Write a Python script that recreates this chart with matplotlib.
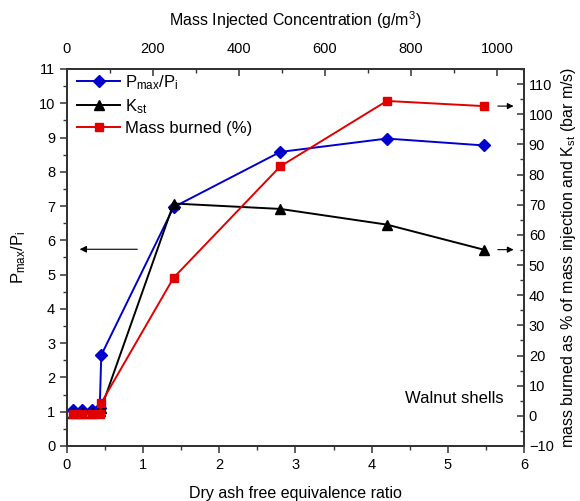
import matplotlib
matplotlib.use("Agg")
import matplotlib.pyplot as plt
from matplotlib.ticker import MultipleLocator

plt.rcParams['font.family'] = ['Liberation Sans', 'DejaVu Sans']
plt.rcParams['mathtext.fontset'] = 'custom'
plt.rcParams['mathtext.rm'] = 'Liberation Sans'
plt.rcParams['mathtext.it'] = 'Liberation Sans'

# data
phi = [0.08, 0.20, 0.33, 0.43, 0.45, 1.40, 2.80, 4.20, 5.47]
pmax_pi = [1.05, 1.05, 1.05, 1.10, 2.65, 6.97, 8.58, 8.97, 8.77]
kst = [1.0, 1.0, 1.0, 1.5, 2.5, 70.4, 68.6, 63.4, 55.1]
mass_burned = [0.5, 0.5, 0.5, 0.5, 4.3, 45.8, 82.7, 104.4, 102.7]

fig = plt.figure(figsize=(5.8, 5.01), dpi=100)
ax = fig.add_axes([0.1155, 0.1098, 0.7879, 0.7525])
ax2 = ax.twinx()
ax3 = ax.twiny()

l1, = ax.plot(phi, pmax_pi, color='#0000cc', marker='D', ms=6, lw=1.4, label=r'P$_{\mathregular{max}}$/P$_{\mathregular{i}}$', zorder=3)
l2, = ax2.plot(phi, kst, color='black', marker='^', ms=7, lw=1.4, label=r'K$_{\mathregular{st}}$')
l3, = ax2.plot(phi, mass_burned, color='#e00000', marker='s', ms=6, lw=1.4, label='Mass burned (%)')

ax.set_xlim(0, 6)
ax.set_ylim(0, 11)
ax2.set_ylim(-10, 115)
ax3.set_xlim(0, 1063)

ax.xaxis.set_major_locator(MultipleLocator(1))
ax.xaxis.set_minor_locator(MultipleLocator(0.5))
ax.yaxis.set_major_locator(MultipleLocator(1))
ax.yaxis.set_minor_locator(MultipleLocator(0.5))
ax2.yaxis.set_major_locator(MultipleLocator(10))
ax2.yaxis.set_minor_locator(MultipleLocator(5))
ax3.xaxis.set_major_locator(MultipleLocator(200))
ax3.xaxis.set_minor_locator(MultipleLocator(100))

for a in (ax, ax2, ax3):
    for s in a.spines.values():
        s.set_linewidth(1.2)
        s.set_color('#333333')

ax.tick_params(which='major', direction='out', length=5, width=1.1, labelsize=10.5, colors='#333333', labelcolor='black')
ax.tick_params(which='minor', direction='out', length=3, width=1.0, colors='#333333')
ax2.tick_params(which='major', direction='in', length=5, width=1.1, labelsize=10.5, colors='#333333', labelcolor='black')
ax2.tick_params(which='minor', direction='in', length=3, width=1.0, colors='#333333')
ax3.tick_params(which='major', direction='in', length=5, width=1.1, labelsize=10.5, pad=9, colors='#333333', labelcolor='black')
ax3.tick_params(which='minor', direction='in', length=3, width=1.0, colors='#333333')

ax.set_xlabel('Dry ash free equivalence ratio', fontsize=11.5, labelpad=10)
ax.set_ylabel(r'P$_{\mathregular{max}}$/P$_{\mathregular{i}}$', fontsize=12, labelpad=8)
ax2.set_ylabel(r'mass burned as % of mass injection and K$_{\mathregular{st}}$ (bar m/s)', fontsize=11.5, labelpad=4)
ax3.set_xlabel(r'Mass Injected Concentration (g/m$^{\mathregular{3}}$)', fontsize=11.5, labelpad=12)

# annotation arrows
ax.annotate('', xy=(0.13, 5.74), xytext=(0.96, 5.74),
            arrowprops=dict(arrowstyle='-|>', color='black', lw=0.8, mutation_scale=10))
ax2.annotate('', xy=(5.9, mass_burned[-1]), xytext=(5.62, mass_burned[-1]),
             arrowprops=dict(arrowstyle='-|>', color='black', lw=0.8, mutation_scale=9))
ax2.annotate('', xy=(5.9, kst[-1]), xytext=(5.62, kst[-1]),
             arrowprops=dict(arrowstyle='-|>', color='black', lw=0.8, mutation_scale=9))

ax.text(0.955, 0.127, 'Walnut shells', transform=ax.transAxes, ha='right', va='center', fontsize=12)

ax3.legend(handles=[l1, l2, l3], loc='upper left', bbox_to_anchor=(0.0, 1.015), frameon=False,
           fontsize=12, handlelength=2.6, handletextpad=0.3, labelspacing=0.3, borderaxespad=0.2)

ax2.set_zorder(ax.get_zorder() + 1)
ax3.set_zorder(ax2.get_zorder() + 1)
ax2.patch.set_visible(False)
ax3.patch.set_visible(False)

fig.savefig('out.png', dpi=100)
